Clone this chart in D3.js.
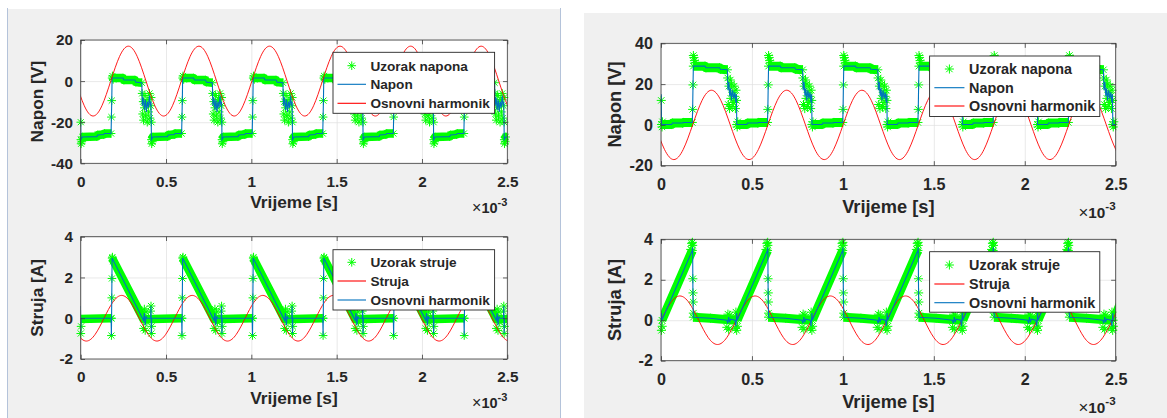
<!DOCTYPE html>
<html>
<head>
<meta charset="utf-8">
<script src="https://cdn.jsdelivr.net/npm/d3@7"></script>
<style>
  html, body { margin: 0; padding: 0; background: #fff; }
  svg { display: block; font-family: "Liberation Sans", Arial, Helvetica, sans-serif; }
</style>
</head>
<body>
<svg id="chart" width="1167" height="418"></svg>
<script>
// time axis (ms, printed with x10^-3)
const timeTicks = [0, 0.5, 1, 1.5, 2, 2.5];
const timeTickLabels = ['0', '0.5', '1', '1.5', '2', '2.5'];

const naponTicksLeft = [-40, -20, 0, 20];
const naponTicksRight = [-20, 0, 20, 40];
const strujaTicks = [-2, 0, 2, 4];

// rising edges of each switching cycle (ms)
const cycleStartsLeft = [-0.2355, 0.178, 0.5915, 1.005, 1.4185, 1.832, 2.2455];
const cycleStartsRight = [-0.2415, 0.172, 0.5855, 0.999, 1.4125, 1.826, 2.2395];

// one cycle of each waveform: [ms after rising edge, value]
const naponLeftLine = [
    [0, -25.5], [0.002, -17.5], [0.004, -9.5], [0.006, 1.5], [0.07, 1.5], [0.075, 0.5],
    [0.14, 0.5], [0.145, -0.5], [0.18, -0.8], [0.183, -12], [0.189, -8], [0.195, -14],
    [0.201, -9], [0.207, -15], [0.213, -10], [0.219, -13], [0.225, -7], [0.23, -12],
    [0.234, -10], [0.2365, -28.5], [0.245, -27.2], [0.33, -27], [0.335, -26.2],
    [0.37, -26], [0.375, -25.5]
];
const naponLeftBand = [
    [0.006, 1.5], [0.07, 1.5], [0.075, 0.5], [0.14, 0.5], [0.145, -0.5], [0.18, -0.8], null,
    [0.2365, -28.5], [0.245, -27.2], [0.33, -27], [0.335, -26.2], [0.37, -26], [0.375, -25.5], [0.4135, -25.5]
];
const naponLeftMarks = [
    [0.002, -17.5], [0.004, -9.5], [0.008, 2.5], [0.012, 0.8],
    [0.182, -6], [0.185, -16], [0.188, -10], [0.19, -19], [0.195, -13], [0.198, -7],
    [0.203, -17], [0.207, -11], [0.212, -20], [0.216, -9], [0.22, -15], [0.225, -6],
    [0.228, -18], [0.232, -12], [0.235, -8], [0.236, -20], [0.238, -30.5], [0.242, -29.5]
];

const strujaLeftLine = [
    [0, 0], [0.002, -0.85], [0.004, 1.0], [0.006, 2.95], [0.19, -0.1], [0.195, 0.25],
    [0.2, -0.35], [0.205, 0.1], [0.21, 0], [0.232, 0], [0.234, 0.6], [0.236, -0.75], [0.238, 0]
];
const strujaLeftBand = [[0.006, 2.95], [0.19, -0.05], [0.4135, 0]];
const strujaLeftMarks = [
    [0.002, -0.85], [0.003, 0], [0.004, 1.0], [0.005, 1.95], [0.008, 3.0], [0.012, 2.8],
    [0.19, -0.5], [0.195, 0.45], [0.2, -0.6], [0.205, 0.3], [0.21, -0.2],
    [0.232, 0.35], [0.234, 0.6], [0.236, -0.75], [0.238, -0.4]
];

const naponRightLine = [
    [0, 1.2], [0.002, 7.6], [0.004, 19.6], [0.006, 28.8], [0.07, 28.8], [0.075, 28], [0.15, 28],
    [0.155, 27.3], [0.193, 27], [0.196, 17], [0.201, 21], [0.206, 14], [0.211, 18],
    [0.216, 12], [0.222, 17], [0.228, 13], [0.234, 16], [0.239, 11], [0.243, 15],
    [0.2445, 0.2], [0.3, 0.2], [0.305, 0.9], [0.36, 0.9], [0.365, 1.2]
];
const naponRightBand = [
    [0.006, 28.8], [0.07, 28.8], [0.075, 28], [0.15, 28], [0.155, 27.3], [0.193, 27], null,
    [0.2445, 0.2], [0.3, 0.2], [0.305, 0.9], [0.36, 0.9], [0.365, 1.2], [0.4135, 1.2]
];
const naponRightMarks = [
    [0.002, 7.6], [0.004, 19.6], [0.006, 34], [0.009, 33], [0.012, 31.5], [0.016, 30.5],
    [0.195, 23], [0.198, 10], [0.202, 19], [0.205, 8], [0.209, 22], [0.212, 13],
    [0.216, 20], [0.219, 9], [0.223, 16], [0.226, 11], [0.23, 19], [0.233, 14],
    [0.237, 8], [0.24, 17], [0.243, 12], [0.247, -1], [0.25, 1.5]
];

const strujaRightLine = [
    [0, 3.45], [0.002, 3.6], [0.003, 2.0], [0.004, 1.0], [0.006, 0.15], [0.1, 0.1],
    [0.19, 0], [0.195, -0.15], [0.2, 0.15], [0.205, -0.1], [0.21, 0.05], [0.235, 0],
    [0.24, -0.3], [0.2445, 0.35], [0.2465, 0]
];
const strujaRightBand = [[0.006, 0.15], [0.1, 0.1], [0.235, 0], null, [0.2465, 0], [0.4135, 3.45]];
const strujaRightMarks = [
    [0.001, 3.85], [0.002, 3.7], [0.003, 2.05], [0.004, 1.35], [0.005, 0.9], [0.006, 0.35],
    [0.19, -0.35], [0.196, 0.3], [0.2, -0.45], [0.206, 0.25], [0.236, -0.4], [0.24, 0.4],
    [0.244, -0.5], [0.248, -0.3], [0.405, 3.5], [0.41, 3.8]
];

// fundamental harmonic: one period read at eighths from the upward zero crossing
const harmonicT = [0, 0.0517, 0.1034, 0.1551, 0.2068, 0.2585, 0.3101, 0.3618];
const naponHarmonicV = [0, 12, 17, 12, 0, -12, -17, -12];
const strujaLeftHarmonicV = [0, 0.79, 1.12, 0.79, 0, -0.79, -1.12, -0.79];
const strujaRightHarmonicV = [0, 0.85, 1.2, 0.85, 0, -0.85, -1.2, -0.85];
const naponLeftZeroUp = [-0.2375, 0.176, 0.5895, 1.003, 1.4165, 1.83, 2.2435];
const naponRightZeroUp = [-0.2395, 0.174, 0.5875, 1.001, 1.4145, 1.828, 2.2415];
const strujaLeftZeroUp = [-0.2769, 0.1366, 0.5501, 0.9636, 1.3771, 1.7906, 2.2041];
const strujaRightZeroUp = [-0.413, 0.0005, 0.414, 0.8275, 1.241, 1.6545, 2.068, 2.4815];

const GREEN = '#00ff00', BLUE = '#0072bd', RED = '#ff0000', INK = '#262626';

const figLeft = { fs: 1, x0: 80.7, x1: 507.3 };
const figRight = { fs: 1.056, x0: 661, x1: 1115.7 };

const panels = [
    { fig: figLeft, y0: 40, y1: 163.3, yDomain: [-40, 20], yTicks: naponTicksLeft, yLabel: 'Napon [V]',
      starts: cycleStartsLeft, line: naponLeftLine, band: naponLeftBand, marks: naponLeftMarks,
      harmStarts: naponLeftZeroUp, harmV: naponHarmonicV, waveFirst: true,
      legend: { x: 333, y: 52.3, w: 161.6, h: 61, rows: [65.7, 84.3, 103.3] },
      names: ['Uzorak napona', 'Napon', 'Osnovni harmonik'], colors: [BLUE, RED] },
    { fig: figLeft, y0: 236.7, y1: 359, yDomain: [-2, 4], yTicks: strujaTicks, yLabel: 'Struja [A]',
      starts: cycleStartsLeft, line: strujaLeftLine, band: strujaLeftBand, marks: strujaLeftMarks,
      harmStarts: strujaLeftZeroUp, harmV: strujaLeftHarmonicV, waveFirst: false,
      legend: { x: 333, y: 249.7, w: 161.6, h: 60.3, rows: [262.3, 281, 300] },
      names: ['Uzorak struje', 'Struja', 'Osnovni harmonik'], colors: [RED, BLUE] },
    { fig: figRight, y0: 43.3, y1: 165.7, yDomain: [-20, 40], yTicks: naponTicksRight, yLabel: 'Napon [V]',
      starts: cycleStartsRight, line: naponRightLine, band: naponRightBand, marks: naponRightMarks,
      harmStarts: naponRightZeroUp, harmV: naponHarmonicV, waveFirst: true,
      legend: { x: 929.6, y: 56, w: 170.2, h: 60.5, rows: [69, 87.7, 106] },
      names: ['Uzorak napona', 'Napon', 'Osnovni harmonik'], colors: [BLUE, RED] },
    { fig: figRight, y0: 239.3, y1: 360.7, yDomain: [-2, 4], yTicks: strujaTicks, yLabel: 'Struja [A]',
      starts: cycleStartsRight, line: strujaRightLine, band: strujaRightBand, marks: strujaRightMarks,
      harmStarts: strujaRightZeroUp, harmV: strujaRightHarmonicV, waveFirst: false,
      legend: { x: 929.6, y: 251.7, w: 170.2, h: 60.5, rows: [265, 284, 302.7] },
      names: ['Uzorak struje', 'Struja', 'Osnovni harmonik'], colors: [RED, BLUE] }
];

const svg = d3.select('#chart');

// figure backgrounds
svg.append('rect').attr('x', 8).attr('y', 9).attr('width', 552).attr('height', 409).attr('fill', '#f0f0f0');
svg.append('rect').attr('x', 584).attr('y', 13).attr('width', 583).attr('height', 405).attr('fill', '#f0f0f0');
[7.5, 560.5].forEach(xx => {
    svg.append('line').attr('x1', xx).attr('x2', xx).attr('y1', 8).attr('y2', 418)
        .attr('stroke', '#b4c3da').attr('stroke-width', 1);
});

function asterisk(r) {
    const k = r * 0.7071;
    return `M${-r},0H${r}M0,${-r}V${r}M${-k},${-k}L${k},${k}M${-k},${k}L${k},${-k}`;
}

// put a one-cycle template at each cycle start
function repeatCycles(starts, template, breakAfter) {
    const out = [];
    starts.forEach(s => {
        template.forEach(p => out.push(p ? [s + p[0], p[1]] : null));
        if (breakAfter) out.push(null);
    });
    return out;
}

function drawPanel(p, idx) {
    const f = p.fig, fs = f.fs;
    const w = f.x1 - f.x0, h = p.y1 - p.y0;
    const tickLen = 4.3 * fs;
    const x = d3.scaleLinear().domain([0, 2.5]).range([f.x0, f.x1]);
    const y = d3.scaleLinear().domain(p.yDomain).range([p.y1, p.y0]);

    const clipId = 'clip' + idx;
    svg.append('clipPath').attr('id', clipId).append('rect')
        .attr('x', f.x0).attr('y', p.y0).attr('width', w).attr('height', h);

    const g = svg.append('g');
    g.append('rect').attr('x', f.x0).attr('y', p.y0).attr('width', w).attr('height', h).attr('fill', '#fff');

    // grid
    g.append('g').attr('transform', `translate(0,${p.y1})`)
        .call(d3.axisBottom(x).tickValues(timeTicks).tickSize(-h).tickFormat(''))
        .call(s => s.select('.domain').remove())
        .selectAll('line').attr('stroke', '#dfdfdf').attr('stroke-width', 0.7);
    g.append('g').attr('transform', `translate(${f.x0},0)`)
        .call(d3.axisLeft(y).tickValues(p.yTicks).tickSize(-w).tickFormat(''))
        .call(s => s.select('.domain').remove())
        .selectAll('line').attr('stroke', '#dfdfdf').attr('stroke-width', 0.7);

    const line = d3.line().defined(d => d).x(d => x(d[0])).y(d => y(d[1]));

    // sample band
    g.append('g').attr('clip-path', `url(#${clipId})`).append('path')
        .datum(repeatCycles(p.starts, p.band, true))
        .attr('d', line)
        .attr('fill', 'none').attr('stroke', GREEN)
        .attr('stroke-width', 8.5 * fs).attr('stroke-linejoin', 'round');

    // sample markers
    const markPts = repeatCycles(p.starts, p.band.concat(p.marks), false)
        .filter(d => d && d[0] >= 0 && d[0] <= 2.5);
    g.append('g').selectAll('path').data(markPts).join('path')
        .attr('transform', d => `translate(${x(d[0])},${y(d[1])})`)
        .attr('d', asterisk(4.3 * fs))
        .attr('fill', 'none').attr('stroke', GREEN).attr('stroke-width', 1);

    const wave = repeatCycles(p.starts, p.line, false);
    const harm = p.harmStarts.flatMap(s => harmonicT.map((t, i) => [s + t, p.harmV[i]]));
    const lines = g.append('g').attr('clip-path', `url(#${clipId})`);

    const drawWave = () => lines.append('path').datum(wave).attr('d', line)
        .attr('fill', 'none').attr('stroke', BLUE).attr('stroke-width', 1.1);
    const drawHarm = () => lines.append('path').datum(harm)
        .attr('d', d3.line().x(d => x(d[0])).y(d => y(d[1])).curve(d3.curveNatural))
        .attr('fill', 'none').attr('stroke', RED).attr('stroke-width', 0.9);
    if (p.waveFirst) { drawWave(); drawHarm(); } else { drawHarm(); drawWave(); }

    // box and ticks
    g.append('rect').attr('x', f.x0).attr('y', p.y0).attr('width', w).attr('height', h)
        .attr('fill', 'none').attr('stroke', '#3a3a3a').attr('stroke-width', 0.8);

    const styleAxis = s => {
        s.select('.domain').remove();
        s.selectAll('line').attr('stroke', '#3a3a3a').attr('stroke-width', 0.8);
        s.selectAll('text').attr('fill', INK).attr('font-weight', 'bold')
            .attr('font-size', 15.3 * fs).attr('font-family', '"Liberation Sans", Arial, sans-serif');
    };
    g.append('g').attr('transform', `translate(0,${p.y1})`)
        .call(d3.axisBottom(x).tickValues(timeTicks).tickFormat((d, i) => timeTickLabels[i])
            .tickSizeInner(-tickLen).tickSizeOuter(0).tickPadding(12.6 * fs))
        .call(styleAxis);
    g.append('g').attr('transform', `translate(0,${p.y0})`)
        .call(d3.axisTop(x).tickValues(timeTicks).tickFormat('').tickSizeInner(-tickLen).tickSizeOuter(0))
        .call(styleAxis);
    g.append('g').attr('transform', `translate(${f.x0},0)`)
        .call(d3.axisLeft(y).tickValues(p.yTicks).tickFormat(d => String(d))
            .tickSizeInner(-tickLen).tickSizeOuter(0).tickPadding(7.7 * fs))
        .call(styleAxis);
    g.append('g').attr('transform', `translate(${f.x1},0)`)
        .call(d3.axisRight(y).tickValues(p.yTicks).tickFormat('').tickSizeInner(-tickLen).tickSizeOuter(0))
        .call(styleAxis);

    // axis labels
    g.append('text').attr('x', (f.x0 + f.x1) / 2).attr('y', p.y1 + 45 * fs)
        .attr('text-anchor', 'middle').attr('font-size', 17.3 * fs).attr('font-weight', 'bold')
        .attr('fill', INK).text('Vrijeme [s]');
    g.append('text')
        .attr('transform', `translate(${f.x0 - 37.9 * fs},${(p.y0 + p.y1) / 2}) rotate(-90)`)
        .attr('text-anchor', 'middle').attr('font-size', 17.3 * fs).attr('font-weight', 'bold')
        .attr('fill', INK).text(p.yLabel);

    const exp = g.append('text').attr('x', f.x1).attr('y', p.y1 + 49.3 * fs)
        .attr('text-anchor', 'end').attr('fill', INK).attr('font-size', 14.5 * fs);
    exp.append('tspan').attr('font-weight', 'normal').attr('font-size', 16 * fs).text('×');
    exp.append('tspan').attr('font-weight', 'bold').text('10');
    exp.append('tspan').attr('font-weight', 'bold').attr('font-size', 11 * fs).attr('dy', -7 * fs).text('-3');

    // legend
    const L = p.legend;
    const lg = g.append('g');
    lg.append('rect').attr('x', L.x).attr('y', L.y).attr('width', L.w).attr('height', L.h)
        .attr('fill', '#fff').attr('stroke', INK).attr('stroke-width', 0.9);
    const sx0 = L.x + 4.5 * fs, sx1 = L.x + 33 * fs, tx = L.x + 37.4 * fs;
    lg.append('path').attr('transform', `translate(${(sx0 + sx1) / 2},${L.rows[0]})`)
        .attr('d', asterisk(4.3 * fs)).attr('fill', 'none').attr('stroke', GREEN).attr('stroke-width', 1);
    p.colors.forEach((c, i) => {
        lg.append('line').attr('x1', sx0).attr('x2', sx1)
            .attr('y1', L.rows[i + 1]).attr('y2', L.rows[i + 1])
            .attr('stroke', c).attr('stroke-width', 1.1);
    });
    p.names.forEach((n, i) => {
        lg.append('text').attr('x', tx).attr('y', L.rows[i] + 0.36 * 13.6 * fs)
            .attr('font-size', 13.6 * fs).attr('font-weight', 'bold').attr('fill', INK).text(n);
    });
}

panels.forEach(drawPanel);
</script>
</body>
</html>
